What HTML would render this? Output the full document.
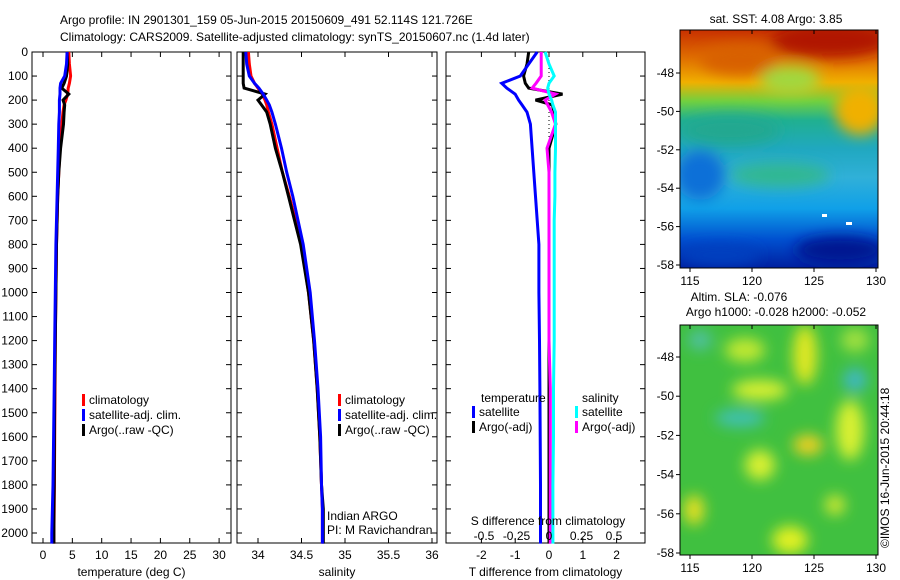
<!DOCTYPE html>
<html><head><meta charset="utf-8"><style>
body{margin:0;background:#fff;font-family:"Liberation Sans",sans-serif}
svg{display:block}
text{font-family:"Liberation Sans",sans-serif;font-size:12px;fill:#000}
</style></head><body>
<svg id="fig" width="900" height="580" viewBox="0 0 900 580">
<defs>
<linearGradient id="sstg" x1="0" y1="0" x2="0" y2="1">
<stop offset="0" stop-color="#c83000"/><stop offset="0.12" stop-color="#e07000"/>
<stop offset="0.22" stop-color="#f0b000"/><stop offset="0.3" stop-color="#70d040"/>
<stop offset="0.38" stop-color="#20b090"/><stop offset="0.5" stop-color="#20a8c0"/>
<stop offset="0.62" stop-color="#30b0d8"/><stop offset="0.75" stop-color="#10a0e8"/>
<stop offset="0.88" stop-color="#0050d0"/><stop offset="1" stop-color="#0020a0"/>
</linearGradient>
<filter id="bl"><feGaussianBlur stdDeviation="7"/></filter>
<clipPath id="c1"><rect x="680" y="30" width="198" height="238"/></clipPath>
<clipPath id="c2"><rect x="680" y="325" width="198" height="230"/></clipPath>
</defs>
<text x="60" y="24" font-size="13">Argo profile: IN 2901301_159 05-Jun-2015 20150609_491 52.114S 121.726E</text>
<text x="60" y="41" font-size="13">Climatology: CARS2009. Satellite-adjusted climatology: synTS_20150607.nc (1.4d later)</text>
<g id="plots"></g>
<g id="maps"></g>
<text x="889" y="548" font-size="11" transform="rotate(-90 889 548)">©IMOS 16-Jun-2015 20:44:18</text>
</svg>
<script>
// depth levels shared by profiles
const depths=[0,50,100,130,150,175,200,220,250,300,400,500,600,700,800,1000,1200,1400,1600,1800,1900,2000,2044];
const tClim=[4.4,4.5,4.7,4.5,4.3,4.2,3.9,3.6,3.4,3.2,2.9,2.7,2.5,2.4,2.3,2.2,2.1,2.05,2.0,1.95,1.9,1.85,1.85];
const tSat=[4.1,4.0,3.7,3.0,2.9,2.9,2.8,2.8,2.8,2.7,2.6,2.5,2.4,2.3,2.2,2.1,2.0,1.9,1.8,1.7,1.6,1.5,1.5];
const tArgo=[4.1,4.2,4.0,3.6,3.2,4.4,3.4,3.7,3.6,3.5,3.0,2.7,2.5,2.4,2.3,2.2,2.1,2.0,1.95,1.9,1.85,1.85,1.85];
const sClim=[33.89,33.9,33.92,33.96,34.0,34.05,34.08,34.1,34.12,34.16,34.22,34.28,34.36,34.43,34.5,34.58,34.64,34.68,34.71,34.73,34.74,34.74,34.74];
const sSat=[33.86,33.87,33.9,33.96,34.01,34.06,34.1,34.13,34.16,34.2,34.27,34.33,34.4,34.46,34.52,34.6,34.65,34.69,34.72,34.73,34.74,34.74,34.74];
const sArgo=[33.83,33.83,33.83,33.83,33.84,34.08,34.0,34.04,34.1,34.14,34.2,34.28,34.35,34.42,34.49,34.58,34.64,34.68,34.71,34.73,34.75,34.75,34.75];
const dT_sat=[-0.35,-0.6,-0.85,-1.4,-1.25,-1.0,-0.9,-0.8,-0.65,-0.55,-0.5,-0.45,-0.4,-0.35,-0.3,-0.3,-0.28,-0.27,-0.26,-0.25,-0.25,-0.25,-0.25];
const dT_argo=[-0.6,-0.65,-0.75,-0.7,-0.6,0.4,-0.4,0.1,0.15,0.2,0.0,0.0,0.0,0.0,0.0,0.0,0.0,0.0,0.0,0.0,0.0,0.0,0.0];
const dS_sat=[-0.03,0.0,0.04,0.0,-0.01,0.0,0.02,0.03,0.05,0.05,0.05,0.045,0.045,0.04,0.04,0.04,0.04,0.035,0.035,0.03,0.03,0.03,0.03];
const dS_argo=[-0.06,-0.06,-0.06,-0.1,-0.13,0.05,-0.03,-0.01,0.02,0.05,-0.015,0.0,0.0,0.0,0.0,0.0,0.0,0.01,0.01,0.01,0.01,0.01,0.01];
const depthTicks=[0,100,200,300,400,500,600,700,800,900,1000,1100,1200,1300,1400,1500,1600,1700,1800,1900,2000];
const tTicks=[0,5,10,15,20,25,30];
const sTicks=[34,34.5,35,35.5,36];
const dTTicks=[-2,-1,0,1,2];
const dSTicks=[-0.5,-0.25,0,0.25,0.5];
const latTicks=[-48,-50,-52,-54,-56,-58];
const lonTicks=[115,120,125,130];

const NS='http://www.w3.org/2000/svg';
function mk(tag,attrs,parent){const e=document.createElementNS(NS,tag);for(const k in attrs)e.setAttribute(k,attrs[k]);parent.appendChild(e);return e;}
const Y=d=>52+d*0.2405;
const plots=document.getElementById('plots');

function panel(name,x0,x1,xs,ticks,fmt,label,showDepth){
  const g=mk('g',{},plots);
  
  
  const r=mk('rect',{x:x0,y:52,width:x1-x0,height:491,fill:'none',stroke:'#000','stroke-width':1},g);
  
  depthTicks.forEach(d=>{
    mk('line',{x1:x0,x2:x0+5,y1:Y(d),y2:Y(d),stroke:'#000'},g);
    mk('line',{x1:x1,x2:x1-5,y1:Y(d),y2:Y(d),stroke:'#000'},g);
    if(showDepth){const t=mk('text',{x:x0-4,y:Y(d)+4,'text-anchor':'end'},g);t.textContent=d;
      }
  });
  ticks.forEach(v=>{
    const x=xs(v);
    mk('line',{x1:x,x2:x,y1:543,y2:538,stroke:'#000'},g);
    mk('line',{x1:x,x2:x,y1:52,y2:57,stroke:'#000'},g);
    const t=mk('text',{x:x,y:559,'text-anchor':'middle'},g);t.textContent=fmt(v);
    
  });
  const l=mk('text',{x:(x0+x1)/2,y:576,'text-anchor':'middle'},g);l.textContent=label;
  
  return g;
}
function line(g,xs,vals,color,name,w){
  const pts=vals.map((v,i)=>xs(v).toFixed(1)+','+Y(depths[i]).toFixed(1)).join(' ');
  const p=mk('polyline',{points:pts,fill:'none',stroke:color,'stroke-width':w||3},g);
  
  
}
function legend(g,x,y,items){
  items.forEach((it,i)=>{
    mk('rect',{x:x,y:y+i*15-10,width:3,height:12,fill:it[1]},g);
    const t=mk('text',{x:x+7,y:y+i*15},g);t.textContent=it[0];
    
  });
}
// panel 1 temperature
const xT=v=>43+v*5.87;
const g1=panel('temperature-panel',32,231,xT,tTicks,v=>v,'temperature (deg C)',true);
line(g1,xT,tClim,'#f00','temp-climatology-line');
line(g1,xT,tArgo,'#000','temp-argo-line');
line(g1,xT,tSat,'#00f','temp-satellite-line');
legend(g1,82,404,[['climatology','#f00'],['satellite-adj. clim.','#00f'],['Argo(..raw -QC)','#000']]);
// panel 2 salinity
const xS=v=>258+(v-34)*87;
const g2=panel('salinity-panel',237,437,xS,sTicks,v=>v,'salinity',false);
line(g2,xS,sClim,'#f00','sal-climatology-line');
line(g2,xS,sArgo,'#000','sal-argo-line');
line(g2,xS,sSat,'#00f','sal-satellite-line');
legend(g2,338,404,[['climatology','#f00'],['satellite-adj. clim.','#00f'],['Argo(..raw -QC)','#000']]);
const n1=mk('text',{x:327,y:520},g2);n1.textContent='Indian ARGO';
const n2=mk('text',{x:327,y:534},g2);n2.textContent='PI: M Ravichandran';
// panel 3 differences
const xdT=v=>549+v*33.8;
const xdS=v=>549+v*130;
const g3=panel('difference-panel',446,645,xdT,dTTicks,v=>v,'T difference from climatology',false);
mk('line',{x1:549,x2:549,y1:52,y2:543,stroke:'#000','stroke-dasharray':'1,3'},g3);
line(g3,xdT,dT_argo,'#000','tdiff-argo-line');
line(g3,xdS,dS_argo,'#f0f','sdiff-argo-line');
line(g3,xdS,dS_sat,'#0ff','sdiff-satellite-line');
line(g3,xdT,dT_sat,'#00f','tdiff-satellite-line');
const lt=mk('text',{x:481,y:402},g3);lt.textContent='temperature';
const ls=mk('text',{x:582,y:402},g3);ls.textContent='salinity';
legend(g3,472,416,[['satellite','#00f'],['Argo(-adj)','#000']]);
legend(g3,575,416,[['satellite','#0ff'],['Argo(-adj)','#f0f']]);
const st=mk('text',{x:548,y:525,'text-anchor':'middle'},g3);st.textContent='S difference from climatology';

dSTicks.forEach(v=>{const t=mk('text',{x:xdS(v),y:540,'text-anchor':'middle'},g3);t.textContent=v;
  });

// maps
const maps=document.getElementById('maps');
function map(name,y0,h,latY,title){
  const g=mk('g',{},maps);
  
  return g;
}
function mapAxes(g,y0,h,latY){
  mk('rect',{x:680,y:y0,width:198,height:h,fill:'none',stroke:'#000'},g);
  latTicks.forEach(l=>{const y=latY(l);mk('line',{x1:676,x2:680,y1:y,y2:y,stroke:'#000'},g);
    const t=mk('text',{x:674,y:y+4,'text-anchor':'end'},g);t.textContent=l;
    });
  lonTicks.forEach(l=>{const x=690+(l-115)*12.4;mk('line',{x1:x,x2:x,y1:y0+h,y2:y0+h+4,stroke:'#000'},g);
    mk('line',{x1:x,x2:x,y1:y0,y2:y0+4,stroke:'#000'},g);
    const t=mk('text',{x:x,y:y0+h+17,'text-anchor':'middle'},g);t.textContent=l;
    });
}
const m1=map('sst-map');
const t1=mk('text',{x:776,y:23,'text-anchor':'middle'},m1);t1.textContent='sat. SST: 4.08 Argo: 3.85';
const c1=mk('g',{'clip-path':'url(#c1)'},m1);
mk('rect',{x:680,y:30,width:198,height:238,fill:'url(#sstg)'},c1);
const bf=mk('g',{filter:'url(#bl)'},c1);
[[830,40,60,18,'#b01800'],[740,60,40,15,'#d86000'],[790,80,30,14,'#a0d840'],[860,110,25,25,'#f0b000'],
 [730,130,50,15,'#20a890'],[700,175,25,25,'#1070d8'],[840,250,45,14,'#001890'],[720,255,40,10,'#0040c0'],[780,175,50,12,'#30b890']]
 .forEach(b=>mk('ellipse',{cx:b[0],cy:b[1],rx:b[2],ry:b[3],fill:b[4]},bf));
mk('rect',{x:822,y:214,width:5,height:3,fill:'#fff'},c1);
mk('rect',{x:846,y:222,width:6,height:3,fill:'#fff'},c1);
mapAxes(m1,30,238,l=>73+(-48-l)*19.2);

const m2=map('sla-map');
const a1=mk('text',{x:739,y:301,'text-anchor':'middle'},m2);a1.textContent='Altim. SLA: -0.076';
const a2=mk('text',{x:776,y:316,'text-anchor':'middle'},m2);a2.textContent='Argo h1000: -0.028 h2000: -0.052';
const c2=mk('g',{'clip-path':'url(#c2)'},m2);
mk('rect',{x:680,y:325,width:198,height:230,fill:'#40c040'},c2);
const bf2=mk('g',{filter:'url(#bl)'},c2);
[[745,350,20,12,'#c0e830'],[805,355,12,30,'#e0e820'],[855,340,14,12,'#a0e040'],[760,390,28,10,'#d8f030'],
 [740,418,25,9,'#40c0b0'],[855,380,12,12,'#40b8c0'],[850,430,14,30,'#d8f030'],[808,445,15,10,'#f0d020'],
 [760,465,15,15,'#d8f030'],[694,510,10,15,'#e8e020'],[790,540,18,14,'#e0f020'],[835,505,10,10,'#d0e830'],[700,340,12,10,'#50c0a0']]
 .forEach(b=>mk('ellipse',{cx:b[0],cy:b[1],rx:b[2],ry:b[3],fill:b[4]},bf2));
mapAxes(m2,325,230,l=>357+(-48-l)*19.6);
</script>
</body></html>
